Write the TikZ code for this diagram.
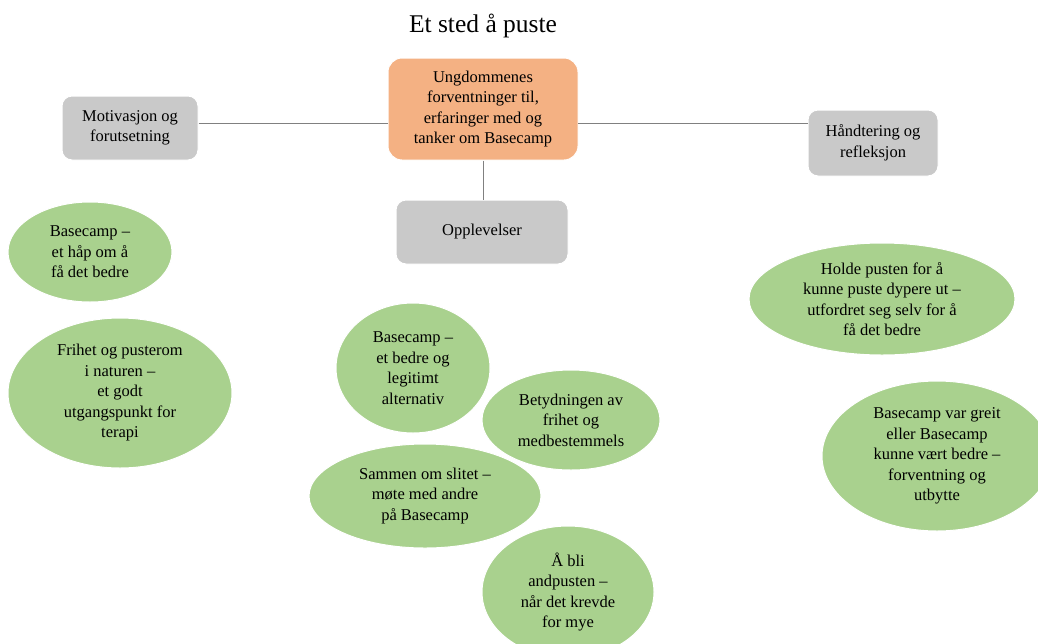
\documentclass[tikz,border=0pt]{standalone}
\usepackage{fontspec}
\setmainfont{Liberation Serif}
\usetikzlibrary{shapes.geometric}
\definecolor{boxorange}{HTML}{F4B183}
\definecolor{boxgray}{HTML}{C9C9C9}
\definecolor{ellgreen}{HTML}{A9D18E}
\definecolor{linegray}{HTML}{808080}
\tikzset{
  txt/.style={font=\fontsize{16.5}{20.5}\selectfont, align=center, text=black},
  mainbox/.style={txt, rectangle, rounded corners=14pt, fill=boxorange, draw=white, line width=1pt, inner sep=0pt},
  catbox/.style={txt, rectangle, rounded corners=10pt, fill=boxgray, draw=white, line width=1pt, inner sep=0pt},
  theme/.style={txt, ellipse, fill=ellgreen, draw=white, line width=1pt, inner sep=0pt},
  link/.style={draw=linegray, line width=0.8pt}
}
\begin{document}
\begin{tikzpicture}[x=1pt,y=-1pt]
\useasboundingbox (0,0) rectangle (1038,643);
\clip (0,0) rectangle (1038,643);
\node[font=\fontsize{25.5}{30}\selectfont] (title) at (483,26) {Et sted å puste};
\node[mainbox, minimum width=190pt, minimum height=102pt] (main) at (483,109) {Ungdommenes\\forventninger til,\\erfaringer med og\\tanker om Basecamp};
\node[catbox, minimum width=136pt, minimum height=64pt] (motiv) at (130,128) {Motivasjon og\\forutsetning};
\node[catbox, minimum width=130pt, minimum height=66pt] (hand) at (873,143) {Håndtering og\\refleksjon};
\node[catbox, minimum width=172pt, minimum height=64pt] (oppl) at (482,232) {Opplevelser};
\coordinate (mL) at (388,123);
\coordinate (mR) at (578,123);
\draw[link] (motiv.east |- mL) -- (mL);
\draw[link] (mR) -- (hand.west |- mR);
\draw[link] (main.south) -- (main.south |- oppl.north);
% left column
\node[theme, minimum width=164pt, minimum height=100pt] (e1) at (90,252) {Basecamp –\\et håp om å\\få det bedre};
\node[theme, minimum width=224pt, minimum height=150pt] (e2) at (120,393) {Frihet og pusterom\\i naturen –\\et godt\\utgangspunkt for\\terapi};
% middle column
\node[theme, minimum width=154pt, minimum height=130pt] (e3) at (413,368) {Basecamp –\\et bedre og\\legitimt\\alternativ};
\node[theme, minimum width=178pt, minimum height=100pt] (e4) at (571,420) {Betydningen av\\frihet og\\medbestemmels};
\node[theme, minimum width=232pt, minimum height=104pt] (e5) at (425,496) {Sammen om slitet –\\møte med andre\\på Basecamp};
\node[theme, minimum width=172pt, minimum height=132pt] (e6) at (568,592) {Å bli\\andpusten –\\når det krevde\\for mye};
% right column
\node[theme, minimum width=266pt, minimum height=112pt] (e7) at (882,299) {Holde pusten for å\\kunne puste dypere ut –\\utfordret seg selv for å\\få det bedre};
\node[theme, minimum width=230pt, minimum height=150pt] (e8) at (937,456) {Basecamp var greit\\eller Basecamp\\kunne vært bedre –\\forventning og\\utbytte};
\end{tikzpicture}
\end{document}
